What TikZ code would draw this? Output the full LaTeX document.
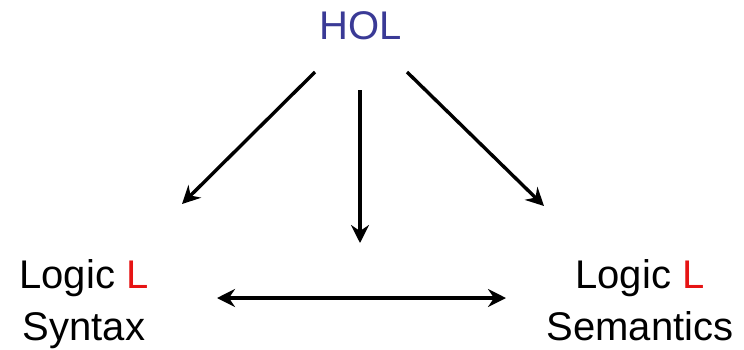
\documentclass[tikz,border=0pt]{standalone}
\usepackage{fontspec}
\setmainfont{Liberation Sans}
\usetikzlibrary{arrows.meta}
\definecolor{holblue}{RGB}{58,58,150}
\definecolor{lred}{RGB}{230,20,20}
\begin{document}
\begin{tikzpicture}[x=1pt,y=-1pt,
  lbl/.style={inner sep=0pt, align=center, font=\fontsize{40}{52}\selectfont},
  arr/.style={line width=3.4pt, -{Stealth[length=18pt,width=18pt,inset=6pt]}},
  darr/.style={line width=3.4pt, {Stealth[length=18pt,width=18pt,inset=6pt]}-{Stealth[length=18pt,width=18pt,inset=6pt]}}]
\useasboundingbox (0,0) rectangle (744,349);
\node[lbl, anchor=base, text=holblue] (hol) at (361,39) {HOL};
\node[lbl, anchor=base] (syn) at (84,340) {Logic \textcolor{lred}{L}\\Syntax};
\node[lbl, anchor=base] (sem) at (640,340) {Logic \textcolor{lred}{L}\\Semantics};
\coordinate (a1s) at (315,72);
\coordinate (a1e) at (182,204);
\coordinate (a2s) at (360,90);
\coordinate (a2e) at (360,243);
\coordinate (a3s) at (407,72);
\coordinate (a3e) at (544,206);
\coordinate (hs) at (217,298);
\coordinate (he) at (506,298);
\draw[arr] (a1s) -- (a1e);
\draw[arr] (a2s) -- (a2e);
\draw[arr] (a3s) -- (a3e);
\draw[darr] (hs) -- (he);
\end{tikzpicture}
\end{document}
